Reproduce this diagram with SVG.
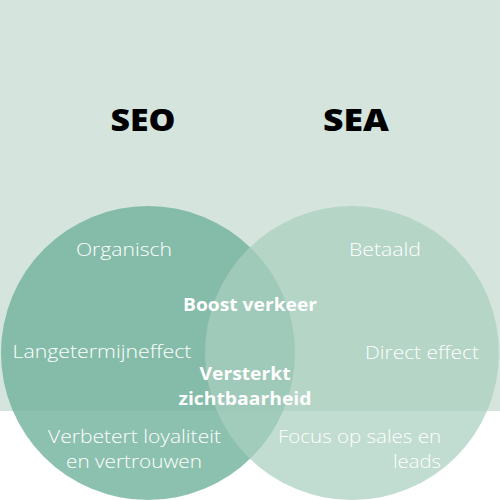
<svg xmlns="http://www.w3.org/2000/svg" width="500" height="500" viewBox="0 0 500 500">
<style>
.h{font-family:"Open Sans","DejaVu Sans",sans-serif;font-weight:800;font-size:30px;fill:#000;text-anchor:middle}
.l{font-family:"Open Sans","DejaVu Sans",sans-serif;font-weight:300;font-size:18.5px;fill:#fff;text-anchor:middle}
.b{font-family:"Open Sans","DejaVu Sans",sans-serif;font-weight:700;font-size:17.5px;fill:#fff;text-anchor:middle}
</style>
<rect x="0" y="0" width="500" height="500" fill="#ffffff"/>
<rect x="0" y="0" width="500" height="411" fill="#d5e5de"/>
<g id="seo-circle"><circle cx="148" cy="353" r="147" fill="#71b29b" fill-opacity="0.8"/></g>
<g id="sea-circle"><circle cx="352" cy="353" r="147" fill="#a9cfbe" fill-opacity="0.72"/></g>
<g id="titles">
<text class="h" x="143" y="131" textLength="65" lengthAdjust="spacingAndGlyphs">SEO</text>
<text class="h" x="356" y="131" textLength="66" lengthAdjust="spacingAndGlyphs">SEA</text>
</g>
<g id="seo-texts">
<text class="l" x="124" y="256" textLength="96" lengthAdjust="spacingAndGlyphs">Organisch</text>
<text class="l" x="102" y="358" textLength="179" lengthAdjust="spacingAndGlyphs">Langetermijneffect</text>
<text class="l" x="134.5" y="443" textLength="173" lengthAdjust="spacingAndGlyphs">Verbetert loyaliteit</text>
<text class="l" x="134" y="468" textLength="136" lengthAdjust="spacingAndGlyphs">en vertrouwen</text>
</g>
<g id="sea-texts">
<text class="l" x="385" y="256" textLength="72" lengthAdjust="spacingAndGlyphs">Betaald</text>
<text class="l" x="422" y="359" textLength="114" lengthAdjust="spacingAndGlyphs">Direct effect</text>
<text class="l" x="441" y="443" style="text-anchor:end" textLength="163" lengthAdjust="spacingAndGlyphs">Focus op sales en</text>
<text class="l" x="441" y="468" style="text-anchor:end" textLength="48" lengthAdjust="spacingAndGlyphs">leads</text>
</g>
<g id="shared-texts">
<text class="b" x="250" y="311" textLength="134" lengthAdjust="spacingAndGlyphs">Boost verkeer</text>
<text class="b" x="245" y="380" textLength="91" lengthAdjust="spacingAndGlyphs">Versterkt</text>
<text class="b" x="245" y="405" textLength="133" lengthAdjust="spacingAndGlyphs">zichtbaarheid</text>
</g>
</svg>
